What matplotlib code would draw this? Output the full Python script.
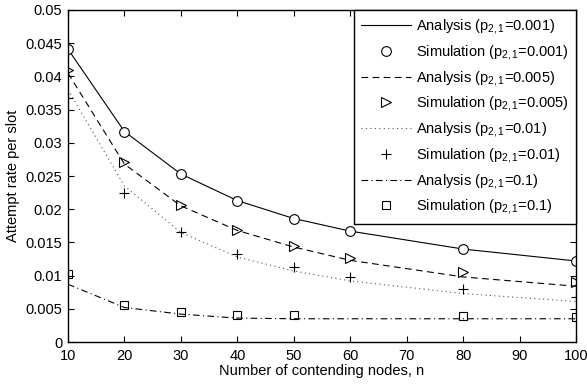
import matplotlib
matplotlib.use('Agg')
import matplotlib.pyplot as plt
from matplotlib.ticker import FuncFormatter

plt.rcParams['font.family'] = 'Liberation Sans'
plt.rcParams['mathtext.fontset'] = 'custom'
plt.rcParams['mathtext.rm'] = 'Liberation Sans'
plt.rcParams['mathtext.it'] = 'Liberation Sans'

n = [10, 20, 30, 40, 50, 60, 80, 100]

# analysis curves
ana_0001 = [0.0441, 0.0317, 0.0253, 0.0213, 0.0186, 0.0167, 0.0140, 0.0122]
ana_0005 = [0.0405, 0.0268, 0.0205, 0.0168, 0.0143, 0.0123, 0.0098, 0.0084]
ana_001 = [0.0380, 0.0235, 0.0165, 0.0128, 0.0107, 0.0092, 0.0073, 0.0061]
ana_01 = [0.0087, 0.0052, 0.0042, 0.0036, 0.0035, 0.0035, 0.0035, 0.0035]

# simulation points
sim_0001 = [0.0441, 0.0317, 0.0253, 0.0213, 0.0186, 0.0167, 0.0140, 0.0122]
sim_0005 = [0.0409, 0.0271, 0.0207, 0.0169, 0.0145, 0.0127, 0.0105, 0.0091]
sim_001 = [0.0367, 0.0225, 0.0165, 0.0133, 0.0113, 0.0098, 0.0080, 0.0068]
n_sim01 = [10, 20, 30, 40, 50, 80, 100]
sim_01 = [0.0102, 0.0056, 0.0045, 0.0040, 0.0040, 0.0039, 0.0038]

fig = plt.figure(figsize=(5.87, 3.89), dpi=100)
ax = fig.add_axes([0.1158, 0.1208, 0.8655, 0.8535])

ax.plot(n, ana_0001, 'k-', lw=0.8, label=r'Analysis ($\mathregular{p_{2,1}}$=0.001)')
ax.plot(n, sim_0001, 'ko', mfc='white', ms=7, mew=0.8, ls='none',
        label=r'Simulation ($\mathregular{p_{2,1}}$=0.001)')
ax.plot(n, ana_0005, 'k--', lw=0.8, dashes=(6, 4), label=r'Analysis ($\mathregular{p_{2,1}}$=0.005)')
ax.plot(n, sim_0005, 'k>', mfc='none', ms=7, mew=0.8, ls='none',
        label=r'Simulation ($\mathregular{p_{2,1}}$=0.005)')
ax.plot(n, ana_001, color='#555555', lw=0.8, dashes=(1, 3),
        label=r'Analysis ($\mathregular{p_{2,1}}$=0.01)')
ax.plot(n, sim_001, 'k+', ms=7, mew=0.8, ls='none',
        label=r'Simulation ($\mathregular{p_{2,1}}$=0.01)')
ax.plot(n, ana_01, 'k-.', lw=0.8, dashes=(6, 3, 1, 3), label=r'Analysis ($\mathregular{p_{2,1}}$=0.1)')
ax.plot(n_sim01, sim_01, 'ks', mfc='none', ms=6, mew=0.8, ls='none',
        label=r'Simulation ($\mathregular{p_{2,1}}$=0.1)')

ax.set_xlim(10, 100)
ax.set_ylim(0, 0.05)
ax.set_xticks(range(10, 101, 10))
ax.set_yticks([i * 0.005 for i in range(11)])
ax.yaxis.set_major_formatter(FuncFormatter(lambda v, p: '%g' % round(v, 4)))
ax.tick_params(direction='in', top=True, right=True, labelsize=10.5, length=4)
ax.tick_params(axis='y', pad=4)
ax.tick_params(axis='x', pad=5)
for s in ax.spines.values():
    s.set_linewidth(1.0)

ax.set_xlabel('Number of contending nodes, n', fontsize=10.5, labelpad=1)
ax.set_ylabel('Attempt rate per slot', fontsize=10.5, labelpad=4)

leg = ax.legend(loc='upper right', fontsize=10.5, frameon=True, fancybox=False,
                edgecolor='black', borderaxespad=0, handlelength=3.4,
                labelspacing=0.46, borderpad=0.5, handletextpad=0.35)
leg.get_frame().set_linewidth(1.0)
leg.get_frame().set_alpha(1)

fig.savefig('out.png', dpi=100)
